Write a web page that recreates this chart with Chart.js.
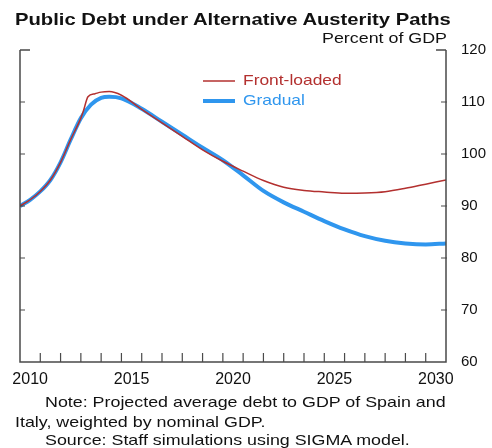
<!DOCTYPE html>
<html>
<head>
<meta charset="utf-8">
<script src="https://cdn.jsdelivr.net/npm/chart.js@4/dist/chart.umd.min.js"></script>
<style>
  body { margin: 0; background: #fff; font-family: "Liberation Sans", Arial, sans-serif; color: #111; }
  #wrap { position: relative; width: 492px; height: 448px; overflow: hidden; }
  #chart { position: absolute; left: 0; top: 0; }
  .txt { position: absolute; white-space: nowrap; line-height: 1; transform-origin: 0 0; transform: scaleX(1.19); }
  #title { left: 15px; top: 11px; font-size: 17px; font-weight: bold; }
  #unit { left: 322px; top: 30px; font-size: 15px; }
  .note { font-size: 15px; }
</style>
</head>
<body>
<div id="wrap">
  <canvas id="chart" width="492" height="448"></canvas>
  <div class="txt" id="title">Public Debt under Alternative Austerity Paths</div>
  <div class="txt" id="unit">Percent of GDP</div>
  <div class="txt note" style="left:45px; top:394px;">Note: Projected average debt to GDP of Spain and</div>
  <div class="txt note" style="left:15px; top:414px;">Italy, weighted by nominal GDP.</div>
  <div class="txt note" style="left:45px; top:432px;">Source: Staff simulations using SIGMA model.</div>
</div>
<script>
// x axis: years, each year spans one slot; labels sit in the middle of the year
const xMin = 2010;
const xMax = 2031;
const labelYears = [2010, 2015, 2020, 2025, 2030];
const tickYears = [2011, 2012, 2013, 2014, 2015, 2016, 2017, 2018, 2019, 2020,
                   2021, 2022, 2023, 2024, 2025, 2026, 2027, 2028, 2029, 2030];
const yTicks = [60, 70, 80, 90, 100, 110, 120];

// Front-loaded path
const frontYears = [2010, 2010.5, 2011, 2011.5, 2012, 2012.5, 2013, 2013.12, 2013.35, 2013.7,
                    2014, 2014.4, 2015, 2016, 2017, 2018, 2019, 2020, 2021, 2022,
                    2023, 2024, 2025, 2026, 2027, 2028, 2029, 2030, 2031];
const frontLoaded = [90.0, 91.2, 92.8, 95.0, 98.4, 102.8, 106.9, 108.2, 111.0, 111.6,
                     111.9, 112.0, 111.3, 108.6, 106.0, 103.4, 100.8, 98.6, 96.7, 94.9,
                     93.6, 93.0, 92.7, 92.45, 92.5, 92.75, 93.4, 94.2, 95.0];

// Gradual path
const gradualYears = [2010, 2010.5, 2011, 2011.5, 2012, 2012.5, 2013, 2013.5, 2014, 2014.4,
                      2015, 2016, 2017, 2018, 2019, 2020, 2021, 2022, 2023, 2024,
                      2025, 2026, 2027, 2028, 2029, 2030, 2031];
const gradual = [90.0, 91.2, 92.8, 95.0, 98.4, 102.8, 106.9, 109.5, 110.8, 111.0,
                 110.7, 108.7, 106.2, 103.7, 101.2, 98.8, 95.9, 92.9, 90.7, 88.9,
                 87.1, 85.5, 84.2, 83.3, 82.8, 82.6, 82.8];

const redColor = "#b3302f";
const blueColor = "#2f96ee";
const fontFamily = "'Liberation Sans', Arial, sans-serif";

const toPoints = (xs, ys) => xs.map((x, i) => ({ x: x, y: ys[i] }));

// frame, inward tick marks and the little legend
const framePlugin = {
    id: "frame",
    afterDraw(chart) {
        const ctx = chart.ctx;
        const area = chart.chartArea;
        const xs = chart.scales.x;
        const ys = chart.scales.y;
        ctx.save();
        ctx.strokeStyle = "#4a4a4a";
        ctx.lineWidth = 1.5;
        ctx.beginPath();
        ctx.moveTo(area.left, area.top);
        ctx.lineTo(area.left, area.bottom);
        ctx.lineTo(area.right, area.bottom);
        ctx.lineTo(area.right, area.top);
        // short corner pieces at the top
        ctx.moveTo(area.left, area.top);
        ctx.lineTo(area.left + 10, area.top);
        ctx.moveTo(area.right, area.top);
        ctx.lineTo(area.right - 10, area.top);
        ctx.stroke();

        ctx.lineWidth = 1.2;
        ctx.beginPath();
        tickYears.forEach(yr => {
            const px = xs.getPixelForValue(yr);
            ctx.moveTo(px, area.bottom);
            ctx.lineTo(px, area.bottom - 9);
        });
        yTicks.slice(1, -1).forEach(v => {
            const py = ys.getPixelForValue(v);
            ctx.moveTo(area.right - 5, py);
            ctx.lineTo(area.right + 1, py);
            ctx.moveTo(area.left, py);
            ctx.lineTo(area.left + 5, py);
        });
        ctx.stroke();

        // legend
        ctx.font = "15px " + fontFamily;
        ctx.textBaseline = "middle";
        chart.data.datasets.forEach((ds, i) => {
            const y = 81 + i * 20;
            ctx.strokeStyle = ds.borderColor;
            ctx.lineWidth = ds.borderWidth;
            ctx.beginPath();
            ctx.moveTo(203, y);
            ctx.lineTo(235, y);
            ctx.stroke();
            ctx.save();
            ctx.translate(243, y);
            ctx.scale(1.16, 1);
            ctx.fillStyle = ds.borderColor;
            ctx.fillText(ds.label, 0, 0);
            ctx.restore();
        });
        ctx.restore();
    }
};

new Chart(document.getElementById("chart"), {
    type: "line",
    data: {
        datasets: [{
            label: "Front-loaded",
            data: toPoints(frontYears, frontLoaded),
            borderColor: redColor,
            borderWidth: 1.5,
            pointRadius: 0,
            cubicInterpolationMode: "monotone",
        }, {
            label: "Gradual",
            data: toPoints(gradualYears, gradual),
            borderColor: blueColor,
            borderWidth: 4,
            pointRadius: 0,
            cubicInterpolationMode: "monotone",
        }],
    },
    options: {
        responsive: false,
        animation: false,
        layout: { padding: { left: 20, top: 50, right: 0, bottom: 0 } },
        plugins: {
            legend: { display: false },
            tooltip: { enabled: false },
        },
        scales: {
            x: {
                type: "linear",
                min: xMin,
                max: xMax,
                afterBuildTicks: scale => {
                    scale.ticks = labelYears.map(v => ({ value: v + 0.5 }));
                },
                afterFit: scale => { scale.height = 86; },
                grid: { display: false, drawTicks: false },
                border: { display: false },
                ticks: {
                    color: "#111",
                    padding: 8,
                    maxRotation: 0,
                    font: { family: fontFamily, size: 16 },
                    callback: v => String(Math.floor(v)),
                },
            },
            y: {
                position: "right",
                min: 60,
                max: 120,
                afterBuildTicks: scale => {
                    scale.ticks = yTicks.map(v => ({ value: v }));
                },
                afterFit: scale => { scale.width = 46; },
                grid: { display: false, drawTicks: false },
                border: { display: false },
                ticks: {
                    color: "#111",
                    padding: 15,
                    font: { family: fontFamily, size: 15 },
                },
            },
        },
    },
    plugins: [framePlugin],
});
</script>
</body>
</html>
